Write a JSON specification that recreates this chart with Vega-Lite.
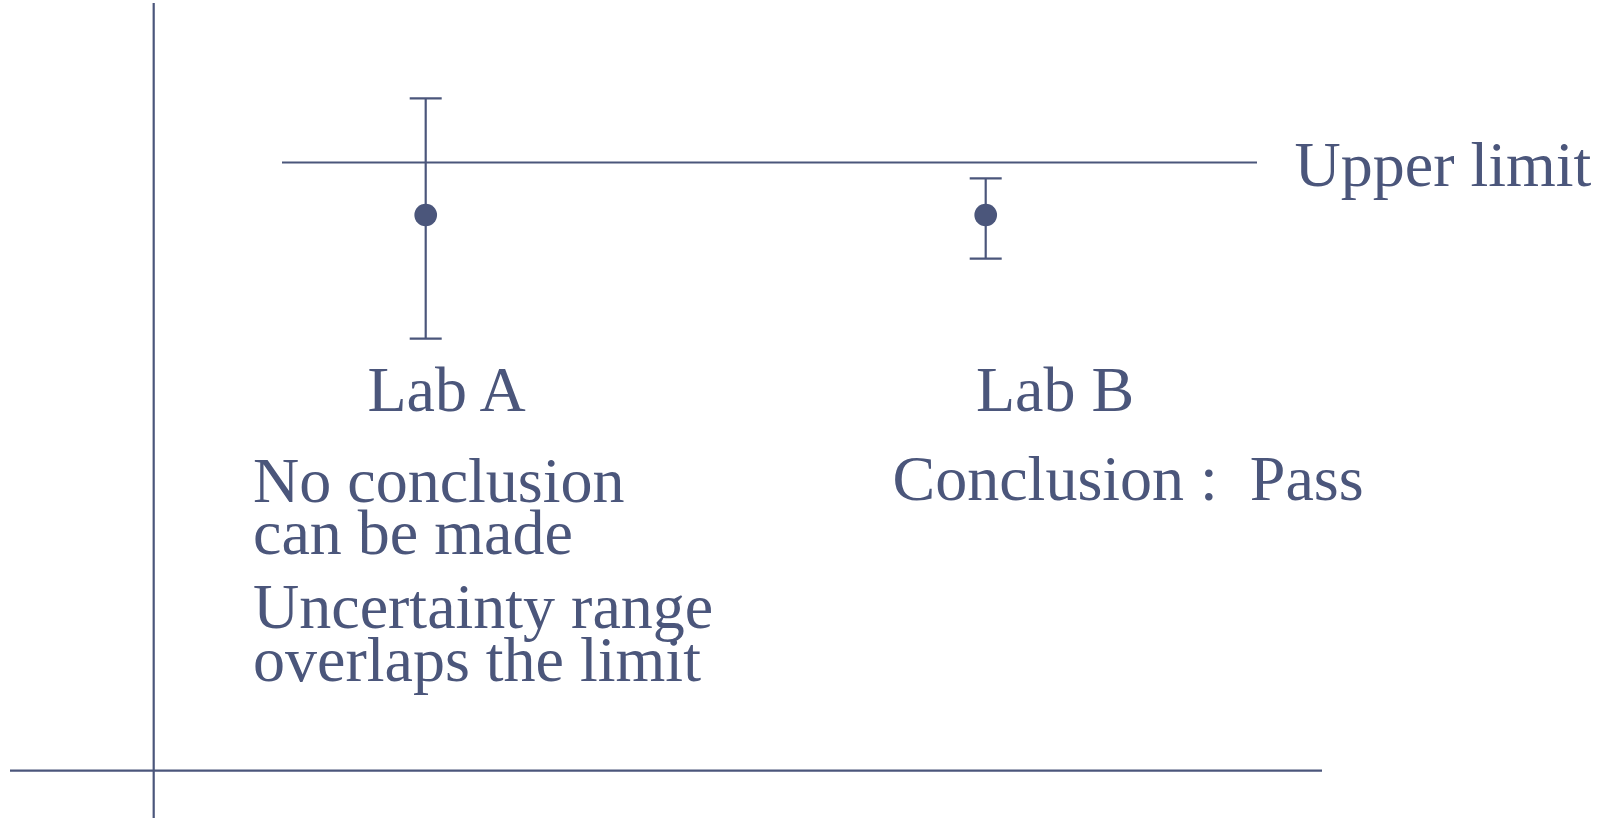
{
  "$schema": "https://vega.github.io/schema/vega-lite/v6.json",
  "width": 1604,
  "height": 822,
  "padding": 0,
  "autosize": {"type": "fit", "contains": "padding"},
  "background": "white",
  "config": {"view": {"stroke": null}},
  "datasets": {
    "axes": [
      {"name": "vertical", "x": 153.7, "x2": 153.7, "y": 4, "y2": 819},
      {"name": "horizontal", "x": 10, "x2": 1322, "y": 51.3, "y2": 51.3},
      {"name": "upper limit", "x": 282, "x2": 1257, "y": 659.5, "y2": 659.5}
    ],
    "labs": [
      {"lab": "Lab A", "x": 425.7, "value": 607, "lo": 483.3, "hi": 723.7},
      {"lab": "Lab B", "x": 985.7, "value": 607, "lo": 563.3, "hi": 643.7}
    ],
    "caps": [
      {"lab": "Lab A", "x": 425.7, "y": 483.3},
      {"lab": "Lab A", "x": 425.7, "y": 723.7},
      {"lab": "Lab B", "x": 985.7, "y": 563.3},
      {"lab": "Lab B", "x": 985.7, "y": 643.7}
    ],
    "labels": [
      {"text": "Upper limit", "x": 1294.5, "y": 636},
      {"text": "Lab A", "x": 367.5, "y": 411.3},
      {"text": "Lab B", "x": 976, "y": 411.3},
      {"text": "No conclusion\ncan be made", "x": 253, "y": 320.3},
      {"text": "Uncertainty range\noverlaps the limit", "x": 253, "y": 193.7},
      {"text": "Conclusion :\u00a0 Pass", "x": 892.5, "y": 322}
    ]
  },
  "encoding": {
    "x": {"type": "quantitative", "scale": {"domain": [0, 1604], "nice": false, "zero": false}, "axis": null},
    "y": {"type": "quantitative", "scale": {"domain": [0, 822], "nice": false, "zero": false}, "axis": null}
  },
  "layer": [
    {
      "data": {"name": "axes"},
      "mark": {"type": "rule", "color": "#4b567b", "strokeWidth": 2.2},
      "encoding": {
        "x": {"field": "x", "type": "quantitative"},
        "x2": {"field": "x2"},
        "y": {"field": "y", "type": "quantitative"},
        "y2": {"field": "y2"}
      }
    },
    {
      "data": {"name": "labs"},
      "mark": {"type": "rule", "color": "#4b567b", "strokeWidth": 2.2},
      "encoding": {
        "x": {"field": "x", "type": "quantitative"},
        "y": {"field": "lo", "type": "quantitative"},
        "y2": {"field": "hi"}
      }
    },
    {
      "data": {"name": "caps"},
      "mark": {"type": "tick", "orient": "horizontal", "color": "#4b567b", "size": 32, "thickness": 2.2, "opacity": 1},
      "encoding": {
        "x": {"field": "x", "type": "quantitative"},
        "y": {"field": "y", "type": "quantitative"}
      }
    },
    {
      "data": {"name": "labs"},
      "mark": {"type": "point", "shape": "circle", "filled": true, "opacity": 1, "color": "#4b567b", "size": 515},
      "encoding": {
        "x": {"field": "x", "type": "quantitative"},
        "y": {"field": "value", "type": "quantitative"}
      }
    },
    {
      "data": {"name": "labels"},
      "mark": {"type": "text", "align": "left", "baseline": "alphabetic", "font": "Liberation Serif", "fontSize": 64, "lineBreak": "\n", "lineHeight": 52.3, "color": "#4b567b"},
      "encoding": {
        "x": {"field": "x", "type": "quantitative"},
        "y": {"field": "y", "type": "quantitative"},
        "text": {"field": "text"}
      }
    }
  ]
}
